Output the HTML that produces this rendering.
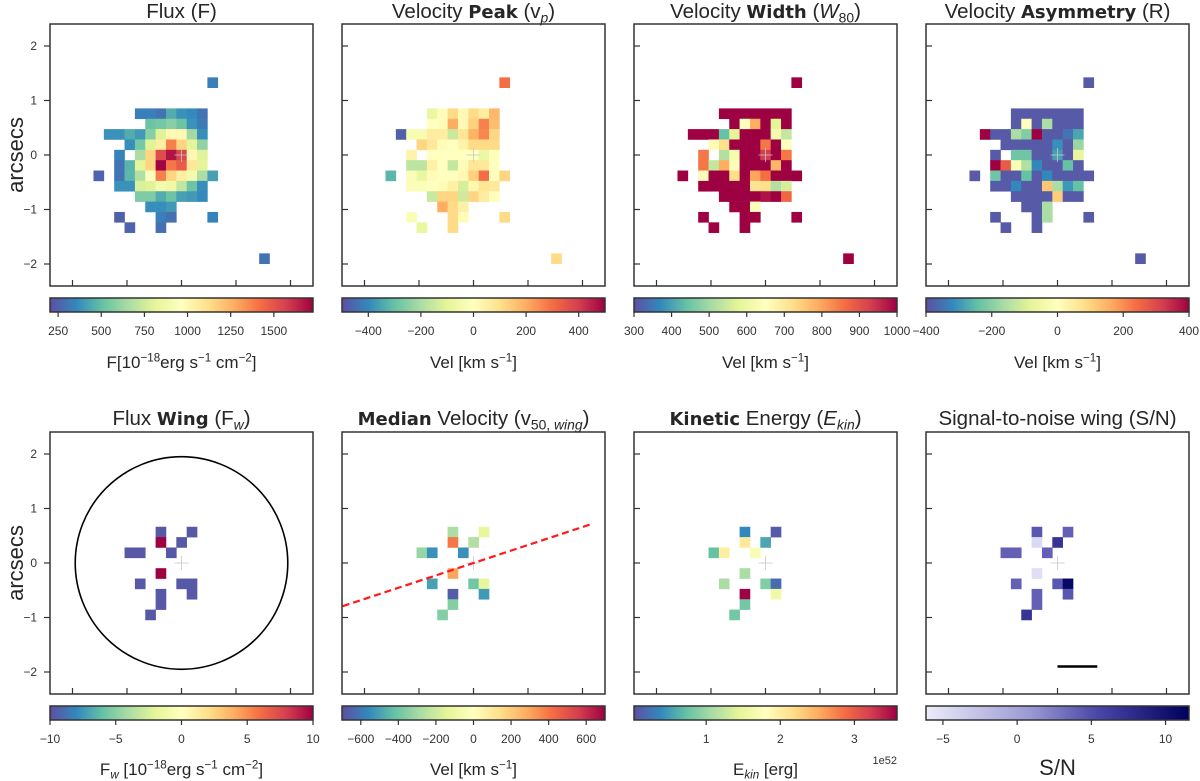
<!DOCTYPE html>
<html><head><meta charset="utf-8">
<style>
html,body{margin:0;padding:0;background:#fff;}
svg{display:block;font-family:"Liberation Sans",Arial,sans-serif;}
</style></head>
<body>
<svg id="fig" width="1200" height="781" viewBox="0 0 1200 781" xmlns="http://www.w3.org/2000/svg">
<defs>
<linearGradient id="spec" x1="0" x2="1" y1="0" y2="0">
<stop offset="0" stop-color="#5e4fa2"/><stop offset="0.1" stop-color="#3288bd"/><stop offset="0.2" stop-color="#66c2a5"/><stop offset="0.3" stop-color="#abdda4"/><stop offset="0.4" stop-color="#e6f598"/><stop offset="0.5" stop-color="#ffffbf"/><stop offset="0.6" stop-color="#fee08b"/><stop offset="0.7" stop-color="#fdae61"/><stop offset="0.8" stop-color="#f46d43"/><stop offset="0.9" stop-color="#d53e4f"/><stop offset="1" stop-color="#9e0142"/>
</linearGradient>
<linearGradient id="snmap" x1="0" x2="1" y1="0" y2="0">
<stop offset="0" stop-color="#ececfa"/><stop offset="0.4" stop-color="#9a98d2"/><stop offset="0.65" stop-color="#4a47a8"/><stop offset="1" stop-color="#00005e"/>
</linearGradient>
</defs>
</svg>
<script>
// ---------- data (spaxel index k, j, value) ----------
const spaxel = 0.19; // arcsec per spaxel
const fluxCells = [[3,7,330],[-4,4,330],[-3,4,330],[-2,4,300],[-1,4,450],[0,4,380],[1,4,360],[2,4,300],
[-3,3,520],[-2,3,540],[-1,3,580],[0,3,520],[1,3,380],[2,3,320],
[-7,2,380],[-6,2,380],[-5,2,450],[-4,2,400],[-3,2,580],[-2,2,800],[-1,2,1000],[0,2,1000],[1,2,640],[2,2,370],
[-5,1,370],[-4,1,540],[-3,1,800],[-2,1,1050],[-1,1,1380],[0,1,1150],[1,1,820],[2,1,600],
[-6,0,340],[-4,0,660],[-3,0,1150],[-2,0,1530],[-1,0,1680],[0,0,1550],[1,0,1000],[2,0,800],
[-6,-1,300],[-5,-1,470],[-4,-1,820],[-3,-1,1150],[-2,-1,1720],[-1,-1,1400],[0,-1,1480],[1,-1,1080],[2,-1,820],
[-8,-2,260],[-6,-2,300],[-5,-2,480],[-4,-2,680],[-3,-2,950],[-2,-2,1380],[-1,-2,1150],[0,-2,1050],[1,-2,900],[2,-2,660],[3,-2,420],
[-6,-3,380],[-5,-3,380],[-4,-3,780],[-3,-3,800],[-2,-3,900],[-1,-3,880],[0,-3,720],[1,-3,520],[2,-3,370],
[-4,-4,560],[-3,-4,560],[-2,-4,450],[-1,-4,520],[0,-4,420],[1,-4,400],[2,-4,360],
[-3,-5,370],[-2,-5,370],[-1,-5,400],
[-6,-6,250],[-2,-6,330],[-1,-6,290],[3,-6,340],
[-5,-7,260],[-2,-7,290],[8,-10,300]];
const vpeakCells = [[3,7,300],
[-4,4,-80],[-3,4,10],[-2,4,110],[-1,4,20],[0,4,110],[1,4,60],[2,4,180],
[-4,3,0],[-3,3,10],[-2,3,200],[-1,3,20],[0,3,130],[1,3,270],[2,3,170],
[-7,2,-470],[-6,2,-30],[-5,2,-30],[-4,2,60],[-3,2,60],[-2,2,-150],[-1,2,80],[0,2,190],[1,2,260],[2,2,120],
[-5,1,120],[-4,1,70],[-3,1,10],[-2,1,0],[-1,1,40],[0,1,110],[1,1,110],[2,1,110],
[-6,0,40],[-4,0,0],[-3,0,0],[-2,0,0],[-1,0,0],[0,0,0],[1,0,-70],[2,0,-10],
[-6,-1,-170],[-5,-1,-170],[-4,-1,50],[-3,-1,0],[-2,-1,-160],[-1,-1,10],[0,-1,80],[1,-1,70],[2,-1,0],
[-8,-2,-320],[-6,-2,-20],[-5,-2,-80],[-4,-2,10],[-3,-2,0],[-2,-2,0],[-1,-2,20],[0,-2,130],[1,-2,300],[2,-2,-10],[3,-2,120],
[-6,-3,-20],[-5,-3,-20],[-4,-3,0],[-3,-3,10],[-2,-3,50],[-1,-3,-130],[0,-3,30],[1,-3,80],[2,-3,70],
[-4,-4,-150],[-3,-4,120],[-2,-4,120],[-1,-4,-140],[0,-4,120],[1,-4,60],[2,-4,-10],
[-3,-5,200],[-2,-5,110],[-1,-5,50],
[-6,-6,-20],[-2,-6,110],[-1,-6,10],[3,-6,110],
[-5,-7,-80],[-2,-7,110],[8,-10,110]];
const w80Cells = [[3,7,1000],
[-4,4,1000],[-3,4,1000],[-2,4,1000],[-1,4,1000],[0,4,1000],[1,4,1000],[2,4,1000],
[-3,3,1000],[-2,3,650],[-1,3,790],[0,3,1000],[1,3,580],[2,3,1000],
[-7,2,1000],[-6,2,1000],[-5,2,1000],[-4,2,440],[-3,2,580],[-2,2,1000],[-1,2,1000],[0,2,1000],[1,2,620],[2,2,540],
[-5,1,660],[-4,1,720],[-3,1,1000],[-2,1,1000],[-1,1,1000],[0,1,850],[1,1,1000],[2,1,650],
[-6,0,850],[-4,0,520],[-3,0,620],[-2,0,1000],[-1,0,1000],[0,0,930],[1,0,1000],[2,0,850],
[-6,-1,850],[-5,-1,540],[-4,-1,790],[-3,-1,640],[-2,-1,1000],[-1,-1,1000],[0,-1,1000],[1,-1,780],[2,-1,1000],
[-8,-2,1000],[-6,-2,660],[-5,-2,1000],[-4,-2,1000],[-3,-2,720],[-2,-2,1000],[-1,-2,800],[0,-2,860],[1,-2,1000],[2,-2,1000],[3,-2,1000],
[-6,-3,1000],[-5,-3,1000],[-4,-3,1000],[-3,-3,1000],[-2,-3,1000],[-1,-3,710],[0,-3,720],[1,-3,520],[2,-3,560],
[-4,-4,1000],[-3,-4,1000],[-2,-4,1000],[-1,-4,1000],[0,-4,980],[1,-4,1000],[2,-4,870],
[-3,-5,1000],[-2,-5,1000],[-1,-5,640],
[-6,-6,1000],[-2,-6,1000],[-1,-6,1000],[3,-6,1000],
[-5,-7,1000],[-2,-7,1000],[8,-10,1000]];
const asymCells = [[3,7,-385],
[-4,4,-385],[-3,4,-385],[-2,4,-385],[-1,4,-385],[0,4,-385],[1,4,-385],[2,4,-385],
[-4,3,-385],[-3,3,-10],[-2,3,-385],[-1,3,-160],[0,3,-385],[1,3,-385],[2,3,-385],
[-7,2,400],[-6,2,-385],[-5,2,-385],[-4,2,-160],[-3,2,-210],[-2,2,400],[-1,2,-385],[0,2,-385],[1,2,-350],[2,2,-280],
[-5,1,-385],[-4,1,-385],[-3,1,-385],[-2,1,-385],[-1,1,-385],[0,1,-310],[1,1,-385],[2,1,-180],
[-6,0,-385],[-4,0,-230],[-3,0,-230],[-2,0,-385],[-1,0,-385],[0,0,-290],[1,0,-385],[2,0,-70],
[-6,-1,400],[-5,-1,270],[-4,-1,-20],[-3,-1,-150],[-2,-1,-320],[-1,-1,-385],[0,-1,-385],[1,-1,-240],[2,-1,-385],
[-8,-2,-385],[-6,-2,-230],[-5,-2,-385],[-4,-2,-385],[-3,-2,-240],[-2,-2,-385],[-1,-2,-320],[0,-2,-385],[1,-2,-385],[2,-2,-385],[3,-2,-385],
[-6,-3,-385],[-5,-3,-385],[-4,-3,-320],[-3,-3,-385],[-2,-3,-385],[-1,-3,120],[0,-3,-160],[1,-3,-300],[2,-3,-240],
[-4,-4,-385],[-3,-4,-385],[-2,-4,-385],[-1,-4,-385],[0,-4,110],[1,-4,-385],[2,-4,-385],
[-3,-5,-385],[-2,-5,-385],[-1,-5,-160],
[-6,-6,-385],[-2,-6,-385],[-1,-6,-160],[3,-6,-385],
[-5,-7,-385],[-2,-7,-385],[8,-10,-385]];
const fwCells = [[-2,3,-9.7],[1,3,-9.7],[-2,2,10],[0,2,-9.7],[-5,1,-9.7],[-4,1,-9.7],[-1,1,-9.7],[-2,-1,10],
[-4,-2,-9.7],[0,-2,-9.7],[1,-2,-9.7],[-2,-3,-9.7],[1,-3,-9.7],[-2,-4,-9.7],[-3,-5,-9.7]];
const v50Cells = [[-2,3,-280],[1,3,-120],[-2,2,400],[0,2,-260],[-5,1,-320],[-4,1,-540],[-1,1,-540],[-2,-1,300],
[-4,-2,-500],[0,-2,-400],[1,-2,-120],[-2,-3,-670],[1,-3,-520],[-2,-4,-360],[-3,-5,-360]];
const ekinCells = [[-2,3,0.38],[1,3,0.1],[-2,2,2.05],[0,2,0.56],[-5,1,0.74],[-4,1,2.0],[-1,1,1.7],[-2,-1,1.09],
[-4,-2,1.09],[0,-2,0.88],[1,-2,0.2],[-2,-3,3.57],[1,-3,1.6],[-2,-4,0.8],[-3,-5,0.8]];
const snCells = [[-2,3,4.5],[1,3,4],[-2,2,-4.5],[0,2,7],[-5,1,4],[-4,1,4],[-1,1,4],[-2,-1,-5],
[-4,-2,4],[0,-2,4.5],[1,-2,11],[-2,-3,4],[1,-3,4.5],[-2,-4,4],[-3,-5,7]];
const yTickVals = [2,1,0,-1,-2];
const xTickVals = [-2,-1,0,1,2];
const outflowSlope = 0.33;
const outflowExtent = [-2.4, 2.19];
const apertureRadius = 1.95;
const scaleBar = [0, 0.73, -1.9];

// ---------- geometry ----------
const NS='http://www.w3.org/2000/svg';
const svg=document.getElementById('fig');
const lefts=[50,342,634,926], W=263, H=262, tops=[24,432];
const PX=54.5;
const specStops=['#5e4fa2','#3288bd','#66c2a5','#abdda4','#e6f598','#ffffbf','#fee08b','#fdae61','#f46d43','#d53e4f','#9e0142'];
const snStops=[[0,'#ececfa'],[0.4,'#9a98d2'],[0.65,'#4a47a8'],[1,'#00005e']];
function hex(h){return [1,3,5].map(i=>parseInt(h.substr(i,2),16));}
function mix(a,b,t){const A=hex(a),B=hex(b);return 'rgb('+A.map((v,i)=>Math.round(v+(B[i]-v)*t)).join(',')+')';}
function spectral(f){f=Math.max(0,Math.min(1,f));const p=f*10,i=Math.min(9,Math.floor(p));return mix(specStops[i],specStops[i+1],p-i);}
function snmap(f){f=Math.max(0,Math.min(1,f));for(let i=0;i<snStops.length-1;i++){if(f<=snStops[i+1][0]){return mix(snStops[i][1],snStops[i+1][1],(f-snStops[i][0])/(snStops[i+1][0]-snStops[i][0]));}}return snStops[3][1];}
function el(tag,attrs,parent){const e=document.createElementNS(NS,tag);for(const k in attrs)e.setAttribute(k,attrs[k]);(parent||svg).appendChild(e);return e;}

const panels=[
 {cells:fluxCells,vmin:203,vmax:1727,cmap:'spec',ticks:[250,500,750,1000,1250,1500],name:'flux'},
 {cells:vpeakCells,vmin:-500,vmax:500,cmap:'spec',ticks:[-400,-200,0,200,400],name:'velocity-peak'},
 {cells:w80Cells,vmin:300,vmax:1000,cmap:'spec',ticks:[300,400,500,600,700,800,900,1000],name:'velocity-width'},
 {cells:asymCells,vmin:-400,vmax:400,cmap:'spec',ticks:[-400,-200,0,200,400],name:'velocity-asymmetry'},
 {cells:fwCells,vmin:-10,vmax:10,cmap:'spec',ticks:[-10,-5,0,5,10],name:'flux-wing'},
 {cells:v50Cells,vmin:-700,vmax:700,cmap:'spec',ticks:[-600,-400,-200,0,200,400,600],name:'median-velocity'},
 {cells:ekinCells,vmin:0.026,vmax:3.575,cmap:'spec',ticks:[1,2,3],name:'kinetic-energy'},
 {cells:snCells,vmin:-6.14,vmax:11.58,cmap:'sn',ticks:[-5,0,5,10],name:'signal-to-noise'}
];
const titles=[
 [['Flux (F)']],
 [['Velocity '],['Peak','b'],[' (v'],['p','si'],[')']],
 [['Velocity '],['Width','b'],[' ('],['W','i'],['80','s'],[')']],
 [['Velocity '],['Asymmetry','b'],[' (R)']],
 [['Flux '],['Wing','b'],[' (F'],['w','si'],[')']],
 [['Median','b'],[' Velocity (v'],['50, ','s'],['wing','si'],[')']],
 [['Kinetic','b'],[' Energy ('],['E','i'],['kin','si'],[')']],
 [['Signal-to-noise wing (S/N)']]
];
const cblabels=[
 [['F[10'],['−18','sup'],['erg s'],['−1','sup'],[' cm'],['−2','sup'],[']']],
 [['Vel [km s'],['−1','sup'],[']']],
 [['Vel [km s'],['−1','sup'],[']']],
 [['Vel [km s'],['−1','sup'],[']']],
 [['F'],['w','si'],[' [10'],['−18','sup'],['erg s'],['−1','sup'],[' cm'],['−2','sup'],[']']],
 [['Vel [km s'],['−1','sup'],[']']],
 [['E'],['kin','si'],[' [erg]']],
 [['S/N']]
];
function richText(parts,x,y,size,name,anchor){
  const t=el('text',{x:x,y:y,'font-size':size,'text-anchor':anchor||'middle',fill:'#262626'});
  
  
  let cur=0;
  parts.forEach(p=>{
    const s=el('tspan',{},t); s.textContent=p[0];
    const st=p[1]||'';
    let target=0;
    if(st==='b'){s.setAttribute('font-weight','bold');s.setAttribute('font-family','"DejaVu Sans",sans-serif');s.setAttribute('font-size',(size*0.88).toFixed(1));}
    if(st==='i')s.setAttribute('font-style','italic');
    if(st==='s'||st==='si'){s.setAttribute('font-size',(size*0.68).toFixed(1));target=size*0.22;if(st==='si')s.setAttribute('font-style','italic');}
    if(st==='sup'){s.setAttribute('font-size',(size*0.68).toFixed(1));target=-size*0.38;}
    const d=target-cur;
    if(Math.abs(d)>0.01)s.setAttribute('dy',d.toFixed(2));
    cur=target;
  });
  return t;
}
function fmt(v){return (v<0?'−':'')+Math.abs(v);}

panels.forEach((p,i)=>{
  const col=i%4,row=Math.floor(i/4);
  const L=lefts[col],T=tops[row],cx=L+W/2,cy=T+131;
  const xs=a=>cx+a*PX, ys=a=>cy-a*PX;
  const g=el('g',{});
  
  
  richText(titles[i],cx,T-(row===0?6:7),20.5,p.name+'-title');
  const cs=spaxel*PX;
  p.cells.forEach(c=>{
    const f=(c[2]-p.vmin)/(p.vmax-p.vmin);
    const r=el('rect',{x:(xs(c[0]*spaxel)-cs/2).toFixed(2),y:(ys(c[1]*spaxel)-cs/2).toFixed(2),width:(cs+0.3).toFixed(2),height:(cs+0.3).toFixed(2),fill:p.cmap==='sn'?snmap(f):spectral(f)},g);
    
    
  });
  el('path',{d:`M${cx-7} ${cy}H${cx+7}M${cx} ${cy-7}V${cy+7}`,stroke:'#c8c8c8','stroke-width':0.8,fill:'none'},g);
  if(i===4){
    const c=el('ellipse',{cx:cx,cy:cy,rx:apertureRadius*PX,ry:apertureRadius*PX,fill:'none',stroke:'#000','stroke-width':1.6},g);
    
    
  }
  if(i===5){
    const l=el('line',{x1:xs(outflowExtent[0]),y1:ys(outflowExtent[0]*outflowSlope),x2:xs(outflowExtent[1]),y2:ys(outflowExtent[1]*outflowSlope),stroke:'#ff1a1a','stroke-width':2.2,'stroke-dasharray':'7,4'},g);
    
    
  }
  if(i===7){
    const l=el('line',{x1:xs(scaleBar[0]),y1:ys(scaleBar[2]),x2:xs(scaleBar[1]),y2:ys(scaleBar[2]),stroke:'#000','stroke-width':2.5},g);
    
    
  }
  const fr=el('rect',{x:L,y:T,width:W,height:H,fill:'none',stroke:'#333','stroke-width':1.5},g);
  
  
  xTickVals.forEach(v=>el('line',{x1:xs(v),x2:xs(v),y1:T+H,y2:T+H-6,stroke:'#333','stroke-width':1.2},g));
  yTickVals.forEach(v=>{
    if(col===0){
      el('line',{x1:L,x2:L-6,y1:ys(v),y2:ys(v),stroke:'#333','stroke-width':1.2},g);
      const t=el('text',{x:L-13,y:ys(v)+4,'font-size':12,'text-anchor':'end',fill:'#333'},g);
      t.textContent=fmt(v);
      
      
    } else el('line',{x1:L,x2:L+6,y1:ys(v),y2:ys(v),stroke:'#333','stroke-width':1.2},g);
  });
  if(col===0){
    const a=el('text',{x:0,y:0,'font-size':22,'text-anchor':'middle',fill:'#262626',transform:`translate(23,${cy}) rotate(-90)`},g);
    a.textContent='arcsecs';
    
    
  }
  const cbT=T+H+12,cbH=14;
  const cb=el('rect',{x:L,y:cbT,width:W,height:cbH,fill:p.cmap==='sn'?'url(#snmap)':'url(#spec)',stroke:'#333','stroke-width':1.5},g);
  
  
  const cbx=v=>L+(v-p.vmin)/(p.vmax-p.vmin)*W;
  p.ticks.forEach(v=>{
    el('line',{x1:cbx(v),x2:cbx(v),y1:cbT+cbH,y2:cbT+cbH+5,stroke:'#333','stroke-width':1.2},g);
    const t=el('text',{x:cbx(v),y:cbT+cbH+23,'font-size':12,'text-anchor':'middle',fill:'#333'},g);
    t.textContent=fmt(v);
    
    
  });
  if(i===6){
    const t=el('text',{x:L+W,y:cbT+cbH+44,'font-size':11,'text-anchor':'end',fill:'#333'},g);
    t.textContent='1e52';
    
    
  }
  richText(cblabels[i],cx,cbT+cbH+(row===0?56:55),i===7?22:17,p.name+'-colorbar-label');
});
</script>
</body></html>
